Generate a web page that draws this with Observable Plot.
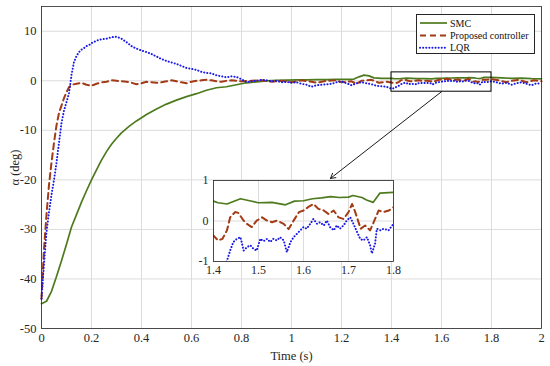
<!DOCTYPE html>
<html><head><meta charset="utf-8">
<script src="https://cdn.jsdelivr.net/npm/d3@7"></script>
<script src="https://cdn.jsdelivr.net/npm/@observablehq/plot@0.6"></script>
<style>
body{margin:0;background:#fff;}
#wrap{position:relative;width:550px;height:366px;font-family:"Liberation Serif","Times New Roman",serif;}
#wrap > svg, #wrap > div{position:absolute;}
#wrap svg text{font-family:"Liberation Serif","Times New Roman",serif !important;}
#wrap svg.mainplot text{font-size:12.5px !important;}
#wrap svg.insetplot text{font-size:12px !important;}
#wrap .legend text{font-size:10px !important;}
</style></head><body><div id="wrap"></div>
<script>
// ---- data ----
const seriesNames = ["SMC", "Proposed controller", "LQR"];
const seriesColors = ["#4e7a1e", "#a23b16", "#1a1ae6"];

const smcT = [0,0.02,0.04,0.06,0.08,0.10,0.12,0.14,0.16,0.18,0.20,0.22,0.24,0.26,0.28,0.30,0.32,0.35,0.38,0.42,0.46,0.50,0.54,0.58,0.62,0.66,0.70,0.74,0.78,0.82,0.86,0.90,0.94,0.98,1.02,1.06,1.10,1.14,1.18,1.22,1.25,1.27,1.29,1.31,1.33,1.36,1.40,1.41,1.43,1.46,1.48,1.50,1.53,1.56,1.58,1.60,1.62,1.64,1.66,1.68,1.70,1.71,1.73,1.74,1.755,1.77,1.80,1.84,1.88,1.92,1.96,2.00];
const smcV = [-45,-44.5,-42.5,-39.5,-36.3,-33,-29.5,-27,-24.5,-22.2,-20,-18,-16,-14.3,-12.8,-11.6,-10.5,-9.2,-8.1,-6.8,-5.7,-4.7,-3.9,-3.2,-2.6,-1.9,-1.4,-1.2,-0.8,-0.4,-0.2,0,0.1,0.15,0.2,0.2,0.25,0.25,0.3,0.3,0.35,0.8,1.15,1.0,0.6,0.5,0.49,0.45,0.42,0.55,0.5,0.45,0.46,0.40,0.49,0.5,0.55,0.57,0.6,0.58,0.59,0.63,0.58,0.52,0.46,0.69,0.71,0.6,0.5,0.55,0.45,0.4];

const propT = [0,0.005,0.01,0.02,0.03,0.04,0.05,0.06,0.07,0.08,0.09,0.10,0.11,0.12,0.14,0.16,0.18,0.20,0.22,0.24,0.26,0.28,0.30,0.32,0.34,0.36,0.38,0.40,0.42,0.44,0.46,0.48,0.50,0.52,0.54,0.56,0.58,0.60,0.62,0.64,0.66,0.68,0.70,0.72,0.74,0.76,0.78,0.80,0.84,0.88,0.92,0.96,1.00,1.04,1.08,1.10,1.14,1.18,1.20,1.24,1.26,1.28,1.32,1.35,1.38,1.40,1.41,1.42,1.43,1.437,1.448,1.455,1.467,1.474,1.485,1.496,1.508,1.519,1.53,1.541,1.556,1.567,1.578,1.59,1.60,1.61,1.622,1.633,1.645,1.656,1.667,1.678,1.689,1.70,1.708,1.715,1.727,1.737,1.748,1.756,1.767,1.778,1.79,1.80,1.83,1.86,1.88,1.91,1.94,1.97,2.00];
const propV = [-44,-39,-34,-27,-21,-16.5,-12.5,-9,-6.5,-5,-3.5,-2.3,-1.3,-0.8,-0.6,-0.4,-0.8,-1.0,-0.6,-0.3,-0.2,0.1,0,-0.1,-0.2,-0.4,-0.7,-0.5,-0.2,-0.3,-0.4,-0.3,-0.1,0.1,-0.1,-0.3,-0.5,-0.2,0,0.1,0.2,0.1,-0.1,-0.2,0,0.1,0,-0.1,0,0.1,-0.2,0,-0.3,0.1,-0.2,-0.4,0,0.1,-0.3,-0.1,-0.6,0,0.2,-0.4,-0.2,-0.36,-0.48,-0.44,-0.23,0.09,0.22,0.2,0.01,-0.07,-0.15,0.01,0.09,0.01,-0.03,0.01,-0.07,-0.2,0.01,0.22,0.26,0.34,0.42,0.30,0.26,0.17,0.26,0.09,0.05,0.22,0.42,0.22,-0.19,-0.11,-0.23,-0.03,0.26,0.22,0.26,0.34,0.1,-0.3,0,0.2,-0.3,0.1,-0.1];

const lqrT = [0,0.01,0.02,0.03,0.04,0.05,0.06,0.07,0.08,0.09,0.10,0.11,0.12,0.13,0.14,0.15,0.16,0.17,0.18,0.19,0.20,0.22,0.24,0.26,0.28,0.30,0.32,0.34,0.36,0.38,0.40,0.42,0.44,0.46,0.48,0.50,0.52,0.54,0.56,0.58,0.60,0.62,0.64,0.66,0.68,0.70,0.72,0.74,0.76,0.78,0.80,0.82,0.84,0.86,0.88,0.90,0.92,0.94,0.96,0.98,1.00,1.02,1.04,1.06,1.08,1.10,1.12,1.14,1.16,1.18,1.20,1.22,1.24,1.26,1.28,1.30,1.32,1.34,1.36,1.38,1.40,1.41,1.42,1.43,1.437,1.444,1.452,1.46,1.467,1.474,1.482,1.489,1.496,1.504,1.511,1.519,1.526,1.533,1.541,1.548,1.556,1.563,1.571,1.578,1.585,1.593,1.60,1.607,1.615,1.622,1.63,1.637,1.645,1.652,1.659,1.667,1.674,1.681,1.689,1.696,1.704,1.711,1.719,1.726,1.733,1.741,1.748,1.752,1.759,1.763,1.771,1.778,1.789,1.80,1.82,1.84,1.86,1.88,1.90,1.92,1.94,1.96,1.98,2.00];
const lqrV = [-44,-37,-30.5,-26.5,-23,-20,-16.5,-12.5,-8.5,-6,-4.3,-2.5,1.2,3.8,5,5.8,6.3,6.6,7,7.2,7.6,8.1,8.4,8.5,8.8,8.9,8.5,7.8,7.0,6.5,6.1,5.8,5.4,4.9,4.4,4.0,3.7,3.4,3.0,2.6,2.4,2.2,1.8,1.6,1.5,1.1,0.9,0.7,0.9,0.8,0.3,-0.3,-0.1,0,0.2,0.1,-0.1,0,-0.3,-0.2,-0.4,-0.3,-0.6,-0.8,-1.2,-0.9,-0.8,-0.7,-0.6,-0.3,-0.1,-0.5,-0.9,-0.5,-0.3,-0.5,-0.7,-1.0,-1.1,-1.2,-1.6,-1.5,-1.2,-0.98,-0.73,-0.52,-0.44,-0.4,-0.73,-0.65,-0.6,-0.69,-0.73,-0.44,-0.5,-0.44,-0.52,-0.44,-0.48,-0.4,-0.48,-0.77,-0.52,-0.4,-0.32,-0.23,-0.15,-0.19,-0.07,0.05,-0.07,-0.03,-0.11,0.01,-0.15,-0.23,-0.11,-0.19,-0.11,0.01,0.09,-0.07,-0.27,-0.44,-0.48,-0.4,-0.6,-0.8,-0.56,-0.19,-0.23,-0.19,-0.23,-0.07,-0.3,-0.6,-0.4,-0.8,-0.5,-0.3,-0.6,-0.9,-0.5,-0.6];

const xTicks = [0,0.2,0.4,0.6,0.8,1,1.2,1.4,1.6,1.8,2];
const yTicks = [-50,-40,-30,-20,-10,0,10];
const insetXTicks = [1.4,1.5,1.6,1.7,1.8];
const insetYTicks = [-1,0,1];
const zoomBox = [{x1:1.4, x2:1.8, y1:-2.2, y2:1.7}];
const arrowLink = [{x1:1.6, y1:-2.2, x2:1.156, y2:-19.7}];

// ---- build ----
const mk = (ts, vs) => ts.map((t, i) => ({t, v: vs[i]}));
const smc = mk(smcT, smcV), prop = mk(propT, propV), lqr = mk(lqrT, lqrV);
const fmt = d => String(+(+d).toFixed(2));
const font = "Liberation Serif, Times New Roman, serif";
const axisColor = "#262626", gridColor = "#dcdcdc";
const lineStyles = [
  {stroke: seriesColors[0], strokeWidth: 1.7},
  {stroke: seriesColors[1], strokeWidth: 2, strokeDasharray: "6,4"},
  {stroke: seriesColors[2], strokeWidth: 2, strokeDasharray: "0.1,3", strokeLinecap: "round"}
];
const lines = (opts) => [smc, prop, lqr].map((d, i) => Plot.line(d, {x: "t", y: "v", ...lineStyles[i], ...opts}));

const wrap = document.getElementById("wrap");

const main = Plot.plot({
  width: 550, height: 366,
  marginLeft: 41, marginRight: 9, marginTop: 6, marginBottom: 38,
  style: {fontFamily: font, fontSize: "12px", color: axisColor, background: "transparent"},
  x: {domain: [0, 2]},
  y: {domain: [-50, 15]},
  marks: [
    Plot.gridX(xTicks, {stroke: gridColor, strokeOpacity: 1}),
    Plot.gridY(yTicks, {stroke: gridColor, strokeOpacity: 1}),
    Plot.axisX(xTicks, {tickFormat: fmt, tickSize: 0, tickPadding: 5, label: "Time (s)", labelArrow: false, labelAnchor: "center", labelOffset: 31}),
    Plot.axisY(yTicks, {tickFormat: fmt, tickSize: 0, tickPadding: 5, label: "α (deg)", labelArrow: false, labelAnchor: "center", labelOffset: 31}),
    ...lines({}),
    Plot.rect(zoomBox, {x1: "x1", x2: "x2", y1: "y1", y2: "y2", fill: "none", stroke: "black", strokeWidth: 1}),
    Plot.arrow(arrowLink, {x1: "x1", y1: "y1", x2: "x2", y2: "y2", stroke: "black", strokeWidth: 0.9, headLength: 9}),
    Plot.frame({stroke: axisColor, strokeWidth: 0.8})
  ]
});
main.classList.add("mainplot");
main.style.left = "0px"; main.style.top = "0px";
wrap.appendChild(main);

const inset = Plot.plot({
  width: 212, height: 106,
  marginLeft: 22, marginRight: 10, marginTop: 5, marginBottom: 20,
  style: {fontFamily: font, fontSize: "11px", color: axisColor, background: "transparent", overflow: "visible"},
  x: {domain: [1.4, 1.8]},
  y: {domain: [-1, 1]},
  marks: [
    Plot.frame({fill: "white"}),
    Plot.gridX(insetXTicks, {stroke: gridColor, strokeOpacity: 1}),
    Plot.gridY(insetYTicks, {stroke: gridColor, strokeOpacity: 1}),
    Plot.axisX(insetXTicks, {tickFormat: fmt, tickSize: 0, tickPadding: 4, label: null}),
    Plot.axisY(insetYTicks, {tickFormat: fmt, tickSize: 0, tickPadding: 5, label: null}),
    ...lines({clip: true}),
    Plot.frame({stroke: axisColor, strokeWidth: 0.8})
  ]
});
inset.classList.add("insetplot");
inset.style.left = "191px"; inset.style.top = "175px";
wrap.appendChild(inset);

// legend
const leg = document.createElement("div");
leg.className = "legend";
leg.style.cssText = "left:416px;top:14px;width:117px;height:38px;background:#fff;border:0.8px solid #262626;";
const rows = seriesNames.map((name, i) => {
  const y = 8 + i * 12.4;
  const s = lineStyles[i];
  return `<line x1="3" x2="30" y1="${y}" y2="${y}" stroke="${s.stroke}" stroke-width="${s.strokeWidth}"` +
         `${s.strokeDasharray ? ` stroke-dasharray="${s.strokeDasharray}"` : ""}${s.strokeLinecap ? ` stroke-linecap="${s.strokeLinecap}"` : ""}/>` +
         `<text x="33" y="${y}" dy="0.35em" fill="#111">${name}</text>`;
}).join("");
leg.innerHTML = `<svg width="117" height="38">${rows}</svg>`;
wrap.appendChild(leg);
</script>
</body></html>
